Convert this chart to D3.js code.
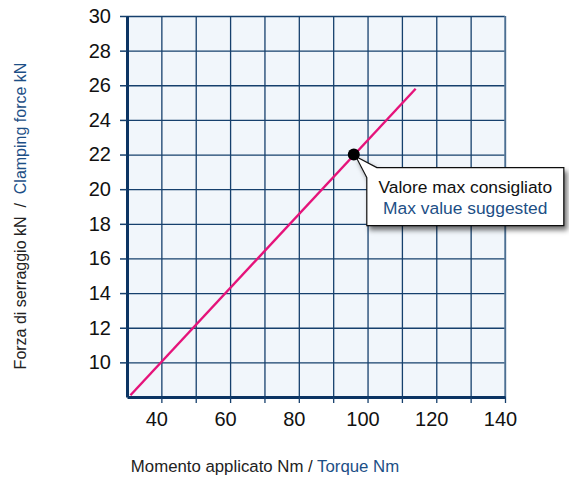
<!DOCTYPE html>
<html>
<head>
<meta charset="utf-8">
<script src="https://cdn.jsdelivr.net/npm/d3@7"></script>
<style>
  body { margin: 0; background: #fff; }
  svg { font-family: Arial, "Liberation Sans", sans-serif; }
</style>
</head>
<body>
<svg id="drawing_region"></svg>
<script>

// data
const torque = [31, 114];          // Nm
const force = [8.1, 25.8];         // kN
const maxTorque = [96];
const maxForce = [22];
const xTickLabels = [40, 60, 80, 100, 120, 140];
const yTickLabels = [10, 12, 14, 16, 18, 20, 22, 24, 26, 28, 30];

var config = {
    width: 569,
    height: 479,
    margin: {top:16, right:64, bottom:82, left:127}
};

const svg = d3.select('#drawing_region')
    .attr('width', config.width)
    .attr('height', config.height);

const inner_width = config.width - config.margin.left - config.margin.right;
const inner_height = config.height - config.margin.top - config.margin.bottom;

const xscale = d3.scaleLinear().domain([30, 140]).range([0, inner_width]);
const yscale = d3.scaleLinear().domain([8, 30]).range([inner_height, 0]);

const defs = svg.append('defs');
defs.append('filter')
    .attr('id', 'shadow')
    .attr('x', '-20%').attr('y', '-20%')
    .attr('width', '150%').attr('height', '160%')
    .append('feDropShadow')
    .attr('dx', 3).attr('dy', 4)
    .attr('stdDeviation', 2.5)
    .attr('flood-color', '#000')
    .attr('flood-opacity', 0.55);

const chart = svg.append('g')
    .attr('transform', `translate(${config.margin.left}, ${config.margin.top})`);

// background
chart.append('rect')
    .attr('width', inner_width)
    .attr('height', inner_height)
    .attr('fill', '#f1f6fb');

// grid
const navy = '#16406d';
const xgrid = chart.append('g')
    .attr('transform', `translate(0, ${inner_height})`)
    .call(d3.axisBottom(xscale)
        .tickValues(d3.range(40, 141, 10))
        .tickSize(-inner_height)
        .tickFormat(''));
xgrid.select('.domain').remove();
xgrid.selectAll('line').attr('stroke', navy).attr('stroke-width', 1.3);

const ygrid = chart.append('g')
    .call(d3.axisLeft(yscale)
        .tickValues(d3.range(10, 31, 2))
        .tickSize(-inner_width)
        .tickFormat(''));
ygrid.select('.domain').remove();
ygrid.selectAll('line').attr('stroke', navy).attr('stroke-width', 1.3);

// right frame
chart.append('line')
    .attr('x1', inner_width).attr('x2', inner_width)
    .attr('y1', 0).attr('y2', inner_height)
    .attr('stroke', '#5f7f9f').attr('stroke-width', 1.5);

// x axis
const xaxis_group = chart.append('g')
    .attr('transform', `translate(0, ${inner_height})`)
    .call(d3.axisBottom(xscale)
        .tickValues(d3.range(40, 141, 10))
        .tickSize(6)
        .tickSizeOuter(0)
        .tickFormat(d => xTickLabels.includes(d) ? d : ''));
xaxis_group.select('.domain').attr('stroke', '#0b3463').attr('stroke-width', 3);
xaxis_group.selectAll('line').attr('stroke', navy).attr('stroke-width', 1.3);
xaxis_group.selectAll('text')
    .attr('fill', '#111')
    .attr('font-size', 20)
    .attr('dx', -5)
    .attr('dy', '1.0em');

// y axis
const yaxis_group = chart.append('g')
    .call(d3.axisLeft(yscale)
        .tickValues(yTickLabels)
        .tickSize(7)
        .tickPadding(9)
        .tickSizeOuter(0));
yaxis_group.select('.domain').attr('stroke', '#0b3463').attr('stroke-width', 3);
yaxis_group.selectAll('line').attr('stroke', navy).attr('stroke-width', 1.5);
yaxis_group.selectAll('text')
    .attr('fill', '#111')
    .attr('font-size', 20);

// line
chart.append('path')
    .datum(torque.map((t, i) => [t, force[i]]))
    .attr('fill', 'none')
    .attr('stroke', '#e5137a')
    .attr('stroke-width', 2.4)
    .attr('d', d3.line().x(d => xscale(d[0])).y(d => yscale(d[1])));

// callout
const mx = xscale(maxTorque[0]);
const my = yscale(maxForce[0]);
const bx = mx + 13, by = my + 13, bw = 197, bh = 58;
chart.append('path')
    .attr('d', `M${mx + 2},${my + 2} L${bx + 10},${by} L${bx + bw},${by} L${bx + bw},${by + bh} L${bx},${by + bh} L${bx},${by + 10} Z`)
    .attr('fill', '#fff')
    .attr('stroke', '#111')
    .attr('stroke-width', 1.2)
    .attr('filter', 'url(#shadow)');

chart.append('text')
    .attr('x', bx + bw / 2).attr('y', by + 25)
    .attr('text-anchor', 'middle')
    .attr('font-size', 17.4)
    .attr('fill', '#111')
    .text('Valore max consigliato');
chart.append('text')
    .attr('x', bx + bw / 2).attr('y', by + 46)
    .attr('text-anchor', 'middle')
    .attr('font-size', 17.4)
    .attr('fill', '#1d4f86')
    .text('Max value suggested');

// marker
chart.selectAll('circle.max')
    .data(maxTorque)
    .enter()
    .append('circle')
    .attr('class', 'max')
    .attr('cx', d => xscale(d))
    .attr('cy', (d, i) => yscale(maxForce[i]))
    .attr('r', 6)
    .attr('fill', '#000');

// axis titles
const ytitle = svg.append('text')
    .attr('transform', 'translate(26, 216) rotate(-90)')
    .attr('text-anchor', 'middle')
    .attr('font-size', 16);
ytitle.append('tspan').attr('fill', '#222').text('Forza di serraggio kN\u00a0\u00a0/\u00a0\u00a0');
ytitle.append('tspan').attr('fill', '#1d4f86').text('Clamping force kN');

const xtitle = svg.append('text')
    .attr('x', 265).attr('y', 472)
    .attr('text-anchor', 'middle')
    .attr('font-size', 16.8);
xtitle.append('tspan').attr('fill', '#222').text('Momento applicato Nm / ');
xtitle.append('tspan').attr('fill', '#1d4f86').text('Torque Nm');

</script>
</body>
</html>
